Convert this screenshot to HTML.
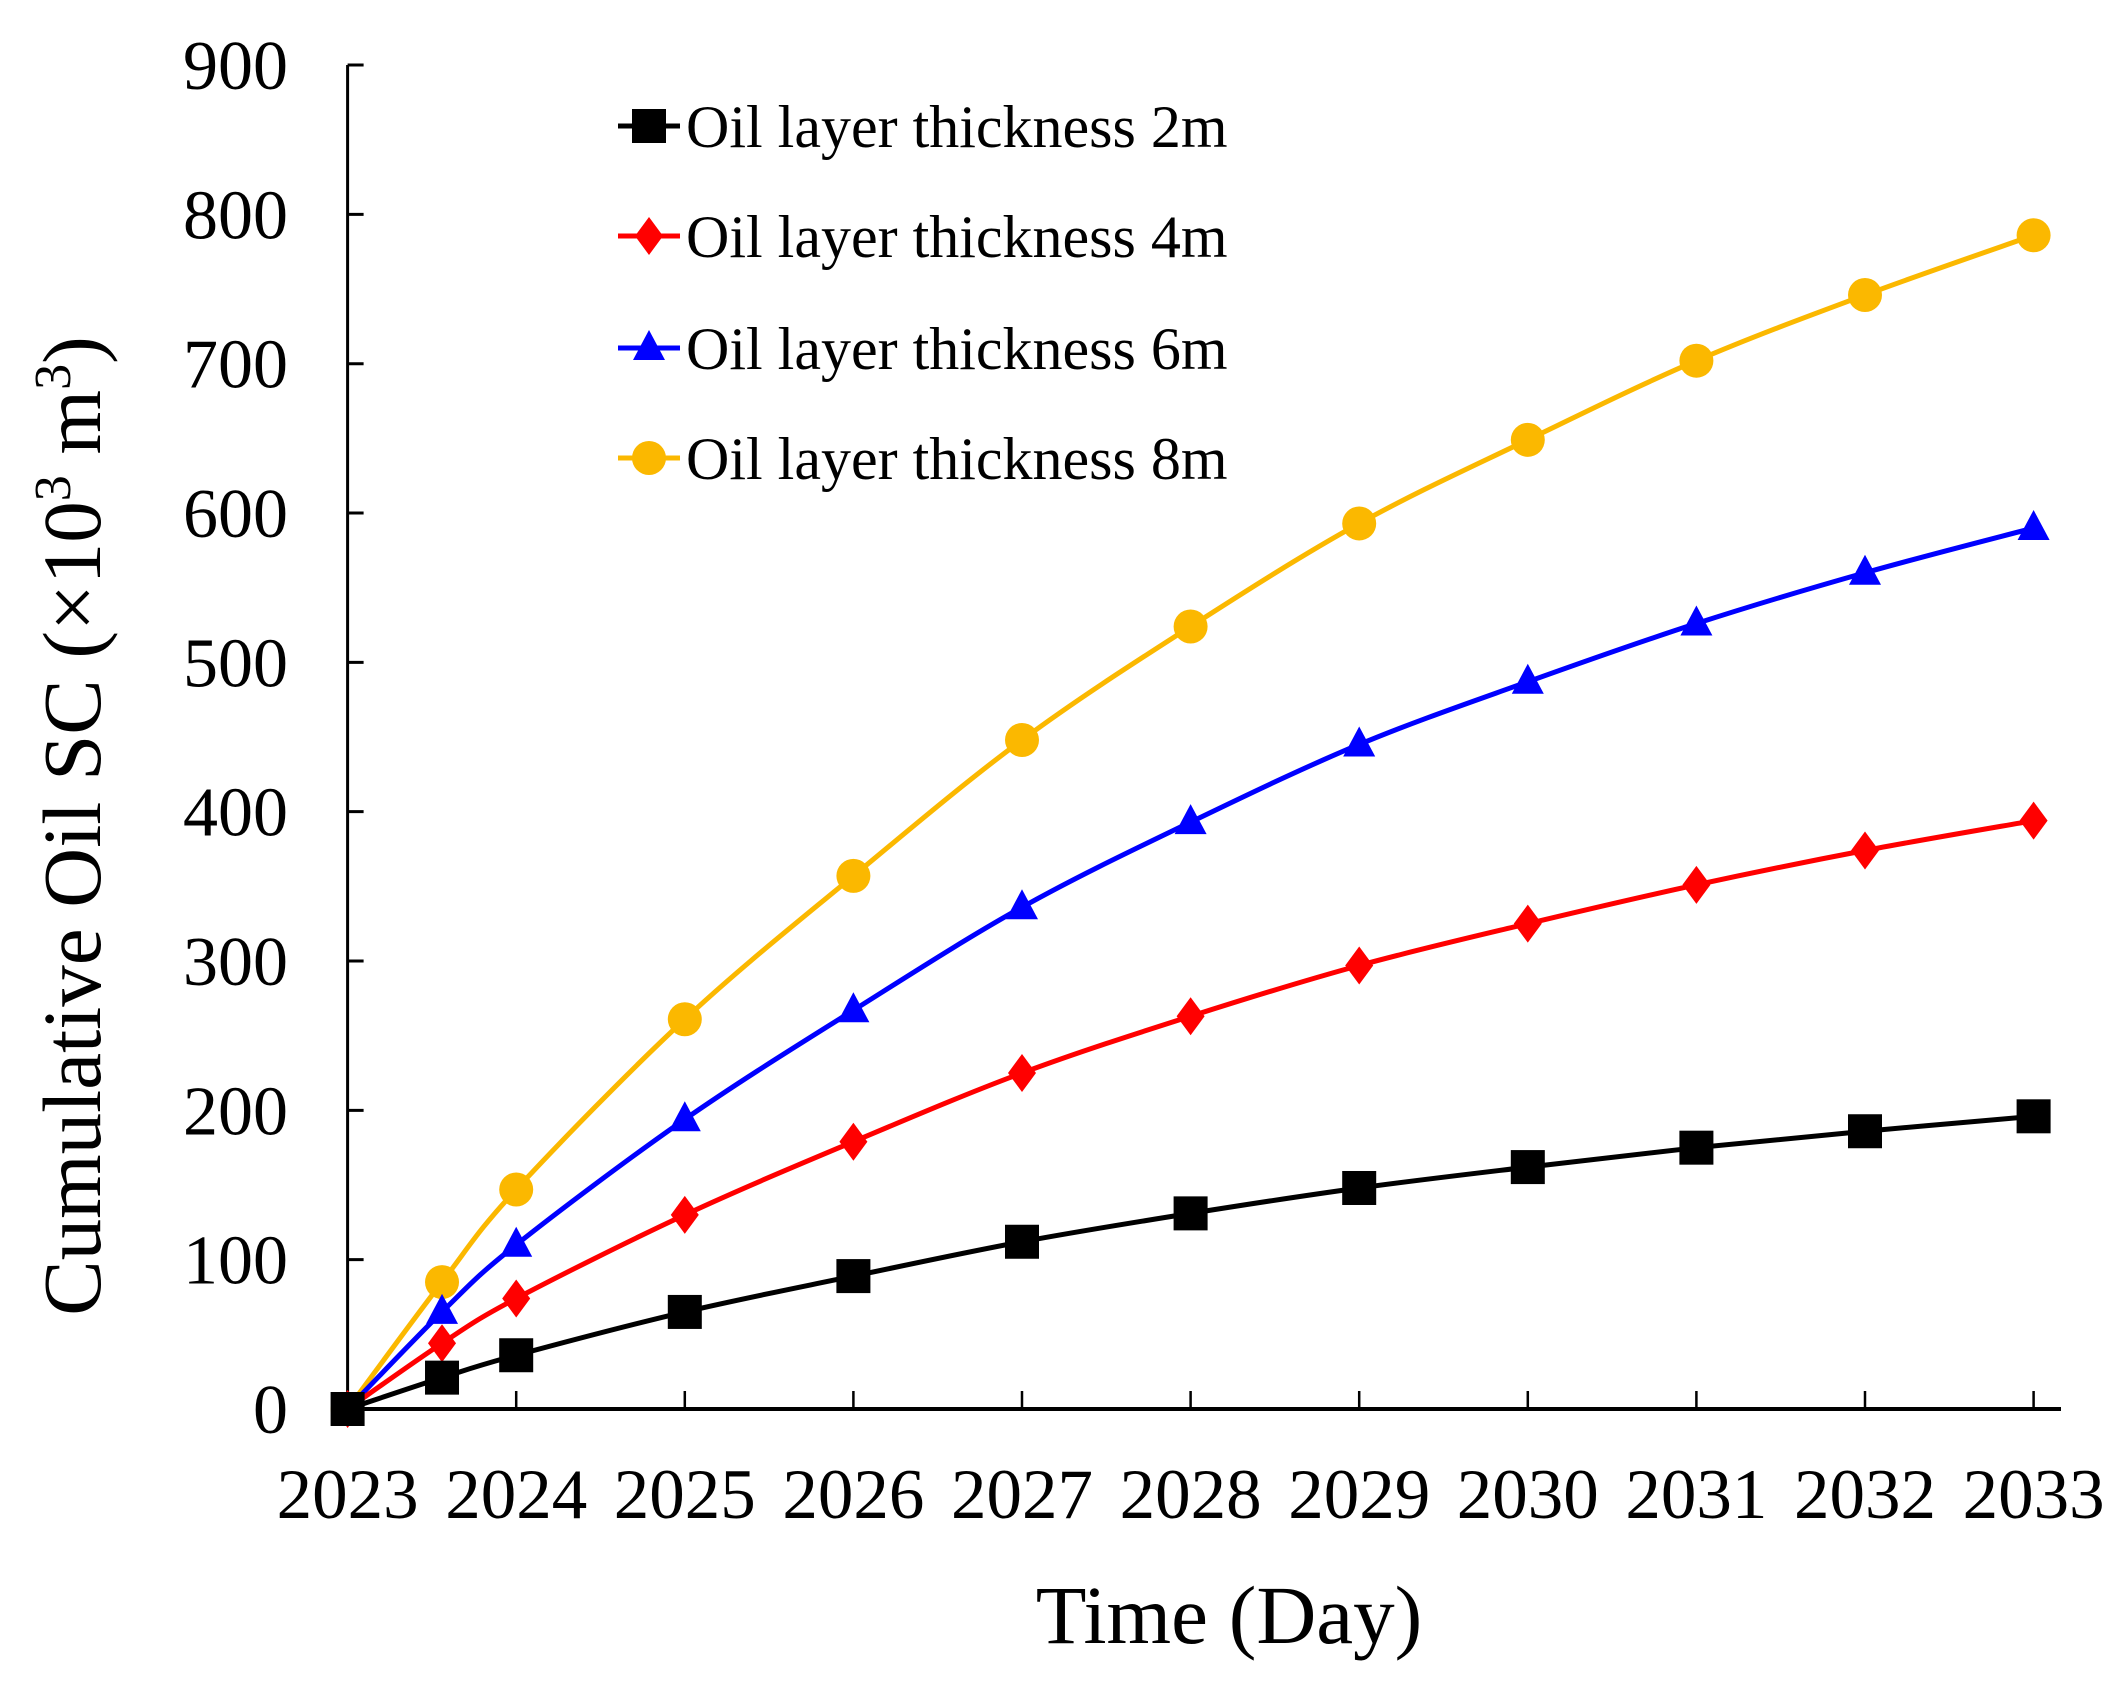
<!DOCTYPE html>
<html><head><meta charset="utf-8"><style>
html,body{margin:0;padding:0;background:#fff;}
svg{display:block;font-family:"Liberation Serif",serif;}
</style></head><body>
<svg id="chart" width="2122" height="1684" viewBox="0 0 2122 1684" xmlns="http://www.w3.org/2000/svg">
<g id="axes"></g>
<g id="series"></g>
<g id="legend"></g>
<text x="1229" y="1643" font-size="83" text-anchor="middle">Time (Day)</text>
<text transform="translate(100,826) rotate(-90)" font-size="83" text-anchor="middle">Cumulative Oil SC (×10<tspan font-size="52" dy="-30">3</tspan><tspan dy="30"> m</tspan><tspan font-size="52" dy="-30">3</tspan><tspan dy="30">)</tspan></text>
</svg>
<script>
const years = [2023, 2023.56, 2024, 2025, 2026, 2027, 2028, 2029, 2030, 2031, 2032, 2033];
const xTicks = [2023,2024,2025,2026,2027,2028,2029,2030,2031,2032,2033];
const yTicks = [0,100,200,300,400,500,600,700,800,900];
const s2m = [0, 21, 36, 65, 89, 112, 131, 148, 162, 175, 186, 196];
const s4m = [0, 44, 74, 130, 179, 225, 263, 297, 325, 351, 374, 394];
const s6m = [0, 65, 110, 194, 267, 336, 393, 445, 487, 526, 560, 590];
const s8m = [0, 85, 147, 261, 357, 448, 524, 593, 649, 702, 746, 786];
const seriesNames = ["Oil layer thickness 2m","Oil layer thickness 4m","Oil layer thickness 6m","Oil layer thickness 8m"];

const NS="http://www.w3.org/2000/svg";
const X0=347.6, XP=168.6, Y0=1409, YP=1.4933;
function xs(v){return X0+(v-2023)*XP;}
function ys(v){return Y0-v*YP;}
function mk(tag,attrs,parent){const e=document.createElementNS(NS,tag);for(const k in attrs)e.setAttribute(k,attrs[k]);parent.appendChild(e);return e;}
const axes=document.getElementById('axes');
let e;
e=mk('line',{x1:X0,y1:ys(900),x2:X0,y2:Y0,stroke:'#000','stroke-width':3},axes);


e=mk('line',{x1:X0,y1:Y0,x2:2061,y2:Y0,stroke:'#000','stroke-width':4},axes);


yTicks.forEach(t=>{
  let l=mk('line',{x1:X0,y1:ys(t),x2:X0+16,y2:ys(t),stroke:'#000','stroke-width':3},axes);
  
  
  let tx=mk('text',{x:288,y:ys(t)+24,'font-size':70,'text-anchor':'end'},axes);
  tx.textContent=t;
  
  
});
xTicks.forEach(t=>{
  let l=mk('line',{x1:xs(t),y1:Y0,x2:xs(t),y2:Y0-18,stroke:'#000','stroke-width':2.5},axes);
  
  
  let tx=mk('text',{x:xs(t),y:1518,'font-size':71,'text-anchor':'middle'},axes);
  tx.textContent=t;
  
  
});
function smooth(pts){
  let d='M'+pts[0][0]+','+pts[0][1];
  for(let i=0;i<pts.length-1;i++){
    const p0=pts[i-1]||pts[i],p1=pts[i],p2=pts[i+1],p3=pts[i+2]||p2;
    const c1=[p1[0]+(p2[0]-p0[0])/6,p1[1]+(p2[1]-p0[1])/6];
    const c2=[p2[0]-(p3[0]-p1[0])/6,p2[1]-(p3[1]-p1[1])/6];
    d+=' C'+c1+' '+c2+' '+p2;
  }
  return d;
}
function marker(type,cx,cy,color,parent){
  let m;
  if(type==='sq') m=mk('rect',{x:cx-17,y:cy-17,width:34,height:34,fill:color},parent);
  else if(type==='dia') m=mk('polygon',{points:`${cx},${cy-19} ${cx+14},${cy} ${cx},${cy+19} ${cx-14},${cy}`,fill:color},parent);
  else if(type==='tri') m=mk('polygon',{points:`${cx},${cy-18} ${cx+16},${cy+12} ${cx-16},${cy+12}`,fill:color},parent);
  else m=mk('circle',{cx:cx,cy:cy,r:17,fill:color},parent);
  return m;
}
const sets=[[s2m,'#000','sq','series-2m'],[s4m,'#ff0000','dia','series-4m'],[s6m,'#0000ff','tri','series-6m'],[s8m,'#fbb800','circ','series-8m']];
const sg=document.getElementById('series');
sets.slice().reverse().forEach(([vals,col,type,name])=>{
  const g=mk('g',{},sg);
  
  
  const pts=vals.map((v,i)=>[xs(years[i]),ys(v)]);
  const p=mk('path',{d:smooth(pts),fill:'none',stroke:col,'stroke-width':5},g);
  
  
  pts.forEach(pt=>{
    const m=marker(type,pt[0],pt[1],col,g);
    
    
  });
});
const lg=document.getElementById('legend');
const ly=[126,236,348,458];
sets.forEach(([vals,col,type,name],i)=>{
  const g=mk('g',{},lg);
  
  
  mk('line',{x1:618,y1:ly[i],x2:680,y2:ly[i],stroke:col,'stroke-width':5},g);
  marker(type,649,ly[i],col,g);
  const t=mk('text',{x:686,y:ly[i]+21,'font-size':60},g);
  t.textContent=seriesNames[i];
  
  
});
</script>
</body></html>
